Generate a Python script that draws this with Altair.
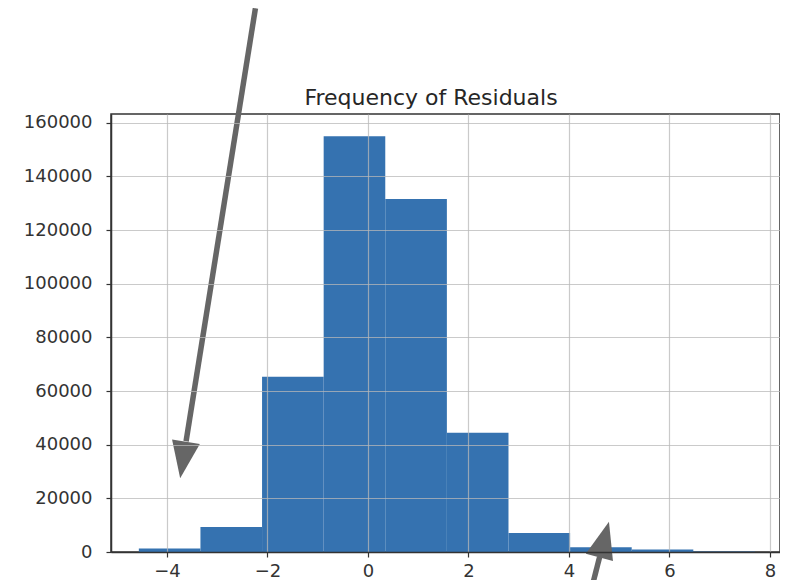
import altair as alt
import pandas as pd

# Histogram of residuals (10 bins)
bin_edges = [-4.56, -3.334, -2.108, -0.882, 0.344, 1.57, 2.796, 4.022, 5.248, 6.474, 7.70]
bin_counts = [1300, 9300, 65300, 155000, 131600, 44500, 7100, 1800, 900, 150]

x_ticks = [-4, -2, 0, 2, 4, 6, 8]
y_ticks = [0, 20000, 40000, 60000, 80000, 100000, 120000, 140000, 160000]

title_text = ["Frequency of Residuals"]

# Annotation arrows (in data coordinates)
arrow_x_start = [-2.24, 4.61]
arrow_y_start = [202700, -1800]
arrow_x_end = [-3.62, 4.44]
arrow_y_end = [41300, -14300]
head_x = [-3.68, 4.70]
head_y = [34300, 4660]
head_angle = [9, 195]

bars = pd.DataFrame({
    "start": bin_edges[:-1],
    "end": bin_edges[1:],
    "count": bin_counts,
})
shafts = pd.DataFrame({"x": arrow_x_start, "y": arrow_y_start, "x2": arrow_x_end, "y2": arrow_y_end})
heads = pd.DataFrame({"x": head_x, "y": head_y, "angle": head_angle})
titles = pd.DataFrame({"t": title_text})

xscale = alt.Scale(domain=[-5.114, 8.199], nice=False, zero=False)
yscale = alt.Scale(domain=[0, 163300], nice=False, zero=False)

FONT = "DejaVu Sans"

common = dict(grid=True, labelFontSize=18, labelFont=FONT, labelColor="#333333",
              tickColor="#333333", tickSize=5, tickWidth=1.2, domainColor="#333333",
              domainWidth=1.5, gridColor="#b8b8b8", gridOpacity=0.75, gridWidth=1.2,
              zindex=1, format="d", title=None)
xaxis = alt.Axis(values=x_ticks, labelPadding=5, **common)
yaxis = alt.Axis(values=y_ticks, labelPadding=14, **common)

hist = alt.Chart(bars).mark_bar(color="#3572b0", opacity=1).encode(
    x=alt.X("start:Q", scale=xscale, axis=xaxis),
    x2="end:Q",
    y=alt.Y("count:Q", scale=yscale, axis=yaxis),
    y2=alt.datum(0),
)

shaft = alt.Chart(shafts).mark_rule(color="#666666", strokeWidth=5.5, clip=False).encode(
    x=alt.X("x:Q", scale=xscale), y=alt.Y("y:Q", scale=yscale),
    x2="x2:Q", y2="y2:Q",
)

head = alt.Chart(heads).mark_point(
    shape="M0,1 L-0.76,-1 L0.76,-1 Z", filled=True, color="#666666", opacity=1,
    size=1369, clip=False,
).encode(
    x=alt.X("x:Q", scale=xscale), y=alt.Y("y:Q", scale=yscale),
    angle=alt.Angle("angle:Q", scale=None),
)

title = alt.Chart(titles).mark_text(
    font=FONT, fontSize=22, color="#262626", align="center", baseline="alphabetic", clip=False
).encode(
    text="t:N", x=alt.value(320), y=alt.value(-9),
)

chart = alt.layer(hist, shaft, head, title).properties(
    width=669, height=438,
    autosize=alt.AutoSizeParams(type="none"),
    padding={"left": 103, "top": 106, "right": 0, "bottom": 28},
).configure(
    background="white",
    view=alt.ViewConfig(stroke="#333333", strokeWidth=1.5),
)

chart.save("out.html", embed_options={"renderer": "svg", "actions": False})
